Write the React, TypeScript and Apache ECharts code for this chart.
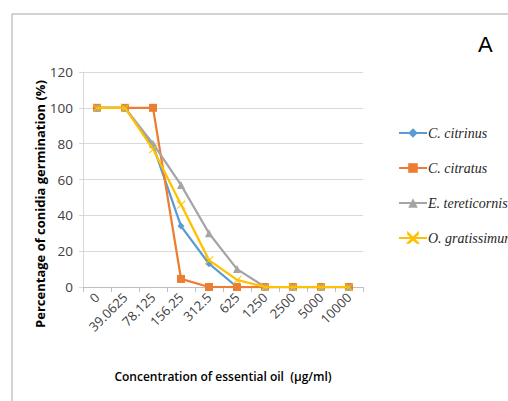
import React, { useEffect, useRef } from "react";
import * as echarts from "echarts";

const categories = ["0", "39.0625", "78.125", "156.25", "312.5", "625", "1250", "2500", "5000", "10000"];
const citrinus = [100, 100, 79, 34, 13, 0, 0, 0, 0, 0];
const citratus = [100, 100, 100, 4.5, 0, 0, 0, 0, 0, 0];
const tereticornis = [100, 100, 80, 57, 30, 10, 0, 0, 0, 0];
const gratissimum = [100, 100, 77, 46, 15, 4, 0, 0, 0, 0];
const seriesNames = ["C. citrinus", "C. citratus", "E. tereticornis", "O. gratissimum"];
const colors = ["#5B9BD5", "#ED7D31", "#A5A5A5", "#FFC000"];

export default function App() {
  const ref = useRef<HTMLDivElement>(null);
  useEffect(() => {
    const chart = echarts.init(ref.current!, null, { renderer: "svg" });
    const data = [citrinus, citratus, tereticornis, gratissimum];
    const symbols = ["diamond", "rect", "triangle", "path://M0,0L10,10L9,10L0,1ZM10,0L0,10L1,10L10,1Z"];
    const sizes = [7, 8, 8, 8];
    chart.setOption({
      animation: false,
      backgroundColor: "#fff",
      color: colors,
      graphic: [
        { type: "line", shape: { x1: 12, y1: 14, x2: 508, y2: 14 }, style: { stroke: "#a6a6a6", lineWidth: 1 } },
        { type: "line", shape: { x1: 12, y1: 14, x2: 12, y2: 401 }, style: { stroke: "#a6a6a6", lineWidth: 1 } },
        { type: "text", left: 478, top: 33, style: { text: "A", font: "22px 'Liberation Sans', Arial", fill: "#000" } },
        {
          type: "text",
          x: 40,
          y: 204,
          rotation: Math.PI / 2,
          style: {
            text: "Percentage of conidia germination (%)",
            font: "bold 13px 'Open Sans', sans-serif",
            fill: "#000",
            align: "center",
            verticalAlign: "middle",
          },
        },
      ],
      legend: {
        orient: "vertical",
        left: 393,
        top: 121,
        itemWidth: 28,
        itemHeight: 12,
        itemGap: 21,
        textStyle: { fontFamily: "'Liberation Serif', serif", fontStyle: "italic", fontSize: 14, color: "#262626", padding: [0, 0, 0, -4] },
        data: seriesNames,
      },
      grid: { left: 83, right: 145, top: 72, bottom: 114 },
      xAxis: {
        type: "category",
        data: categories,
        boundaryGap: true,
        name: "Concentration of essential oil  (\u03bcg/ml)",
        nameLocation: "middle",
        nameGap: 83,
        nameTextStyle: { fontFamily: "'Open Sans', sans-serif", fontSize: 12, fontWeight: 600, color: "#000" },
        axisLine: { lineStyle: { color: "#bfbfbf" } },
        axisTick: { show: true, length: 5, lineStyle: { color: "#bfbfbf" } },
        axisLabel: { rotate: 45, fontFamily: "'Open Sans', sans-serif", fontSize: 13, color: "#404040", margin: 8, interval: 0 },
      },
      yAxis: {
        type: "value",
        min: 0,
        max: 120,
        interval: 20,
        axisLine: { show: true, lineStyle: { color: "#d9d9d9" } },
        axisTick: { show: true, length: 4, lineStyle: { color: "#d9d9d9" } },
        splitLine: { lineStyle: { color: "#d9d9d9" } },
        axisLabel: { fontFamily: "'Open Sans', sans-serif", fontSize: 13.5, color: "#404040", margin: 10 },
      },
      series: data.map((d, i) => ({
        name: seriesNames[i],
        type: "line",
        data: d,
        symbol: symbols[i],
        symbolSize: sizes[i],
        showAllSymbol: true,
        lineStyle: { width: 2.25, color: colors[i] },
        itemStyle: { color: colors[i], borderColor: colors[i], borderWidth: i === 3 ? 0.5 : 0 },
        z: 2 + i,
      })),
    });
    return () => chart.dispose();
  }, []);
  return <div ref={ref} style={{ width: 508, height: 401, position: "absolute", left: 0, top: 0 }} />;
}
